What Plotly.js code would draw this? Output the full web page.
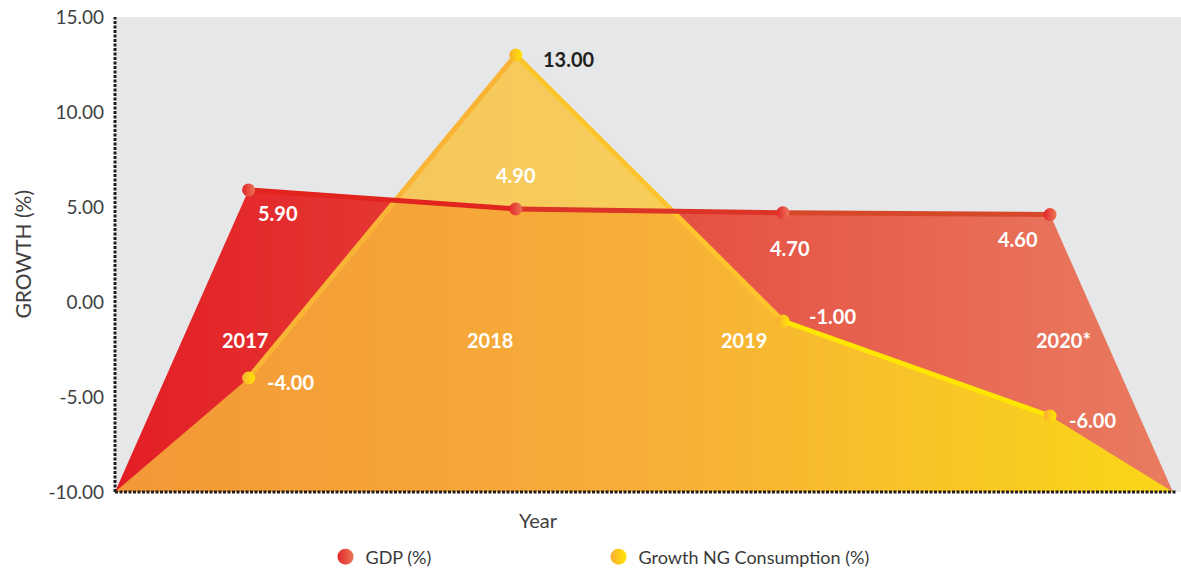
<!DOCTYPE html>
<html>
<head>
<meta charset="utf-8">
<script src="https://cdn.plot.ly/plotly-3.0.1.min.js"></script>
<style>
  body { margin: 0; background: #fff; }
  #chart { width: 1181px; height: 570px; }
</style>
</head>
<body>
<div id="chart"></div>
<script>
// data
const years = ['2017', '2018', '2019', '2020*'];
const gdp = [5.9, 4.9, 4.7, 4.6];
const ngConsumption = [-4.0, 13.0, -1.0, -6.0];
const seriesNames = ['GDP (%)', 'Growth NG Consumption (%)'];
const yTicks = [-10, -5, 0, 5, 10, 15];
const baseX = [-0.5, 3.46];   // where the areas meet the floor
const baseY = -10;

const idx = years.map((_, i) => i);
const boldFont = { family: 'Lato, sans-serif', size: 20, color: '#ffffff', weight: 700 };

function areaTrace(values, scale, opacity) {
    return {
        x: [baseX[0], ...idx, baseX[1]],
        y: [baseY, ...values, baseY],
        mode: 'none',
        fill: 'toself',
        fillgradient: { type: 'horizontal', colorscale: scale },
        opacity: opacity,
        hoverinfo: 'skip',
        showlegend: false
    };
}

function segmentTraces(values, colors) {
    return colors.map((c, i) => ({
        x: idx.slice(i, i + 2),
        y: values.slice(i, i + 2),
        mode: 'lines',
        line: { color: c, width: 5 },
        hoverinfo: 'skip',
        showlegend: false
    }));
}

function markerTrace(values, c1, c2, name) {
    return {
        x: idx, y: values, name: name,
        mode: 'markers',
        marker: { size: 13, color: c1, gradient: { type: 'horizontal', color: c2 } },
        showlegend: false
    };
}

function legendTrace(name, c1, c2) {
    return {
        x: [null], y: [null], name: name,
        mode: 'markers',
        marker: { size: 17, color: c1, gradient: { type: 'horizontal', color: c2 } },
        showlegend: true
    };
}

const redScale = [[0, '#e31e24'], [1, '#e97c60']];
const yellowScale = [[0, '#f7b63c'], [0.5, '#fbc737'], [1, '#feee05']];

let data = [
    areaTrace(gdp, redScale, 1),
    areaTrace(ngConsumption, yellowScale, 0.8),
    ...segmentTraces(ngConsumption, ['#f9b435', '#fdc42b', '#ffe600']),
    ...segmentTraces(gdp, ['#e2241f', '#dc3527', '#d6482a']),
    markerTrace(gdp, '#e3262a', '#ec7657', seriesNames[0]),
    markerTrace(ngConsumption, '#f9ad35', '#ffe600', seriesNames[1]),
    legendTrace(seriesNames[0], '#e3262a', '#ec7657'),
    legendTrace(seriesNames[1], '#f9ad35', '#ffe600')
];

// label offsets in pixels from each point
const gdpShift = [[29, -23], [0, 34], [7, -35], [-32, -24]];
const ngShift = [[42, -4], [53, -4], [50, 5], [42, -4]];
const yearShift = [-4, -26, -39, 13];

let annotations = [];
gdp.forEach((v, i) => annotations.push({
    x: i, y: v, text: v.toFixed(2), showarrow: false,
    xshift: gdpShift[i][0], yshift: gdpShift[i][1], font: boldFont
}));
ngConsumption.forEach((v, i) => annotations.push({
    x: i, y: v, text: v.toFixed(2), showarrow: false,
    xshift: ngShift[i][0], yshift: ngShift[i][1],
    font: Object.assign({}, boldFont, { color: v > 10 ? '#231f20' : '#ffffff' })
}));
years.forEach((yr, i) => annotations.push({
    x: i, y: -2, text: yr, showarrow: false, xshift: yearShift[i], font: boldFont
}));
annotations.push({
    xref: 'paper', yref: 'paper', x: (22 - 115) / 1066, y: 0.5, xanchor: 'center', yanchor: 'middle',
    text: 'GROWTH (%)', textangle: -90,
    showarrow: false, font: { family: 'Lato, sans-serif', size: 21, color: '#3f3f3f' }
});
annotations.push({
    xref: 'paper', yref: 'paper', x: (538 - 115) / 1066, y: -0.059, xanchor: 'center', yanchor: 'middle',
    text: 'Year',
    showarrow: false, font: { family: 'Lato, sans-serif', size: 20, color: '#3f3f3f' }
});

const axisLine = { color: '#231f20', width: 3, dash: '3px,1.5px' };

let layout = {
    width: 1181,
    height: 570,
    margin: { l: 115, r: 0, t: 17, b: 78, autoexpand: false },
    paper_bgcolor: '#ffffff',
    plot_bgcolor: '#e6e7e8',
    xaxis: {
        range: [-0.5, 3.49],
        showticklabels: false, showgrid: false, zeroline: false, ticks: '', fixedrange: true
    },
    yaxis: {
        range: [-10, 15],
        tickvals: yTicks,
        ticktext: yTicks.map(v => v.toFixed(2)),
        showgrid: false, zeroline: false, ticks: '',
        ticklabelstandoff: 10,
        tickfont: { family: 'Lato, sans-serif', size: 19, color: '#3f3f3f' }
    },
    showlegend: true,
    legend: {
        orientation: 'h',
        x: 0.1975, xanchor: 'left',
        y: (492 - 557) / 475, yanchor: 'middle',
        entrywidth: 228,
        font: { family: 'Lato, sans-serif', size: 18, color: '#3a3a3a' },
        bgcolor: 'rgba(0,0,0,0)'
    },
    annotations: annotations,
    shapes: [
        { type: 'line', xref: 'paper', yref: 'paper', x0: 0, x1: 0, y0: 0, y1: 1, line: axisLine, layer: 'above' },
        { type: 'line', xref: 'paper', yref: 'paper', x0: 0, x1: 0.996, y0: 0, y1: 0, line: axisLine, layer: 'above' }
    ]
};

Plotly.newPlot('chart', data, layout, { displayModeBar: false, staticPlot: true });
</script>
</body>
</html>
